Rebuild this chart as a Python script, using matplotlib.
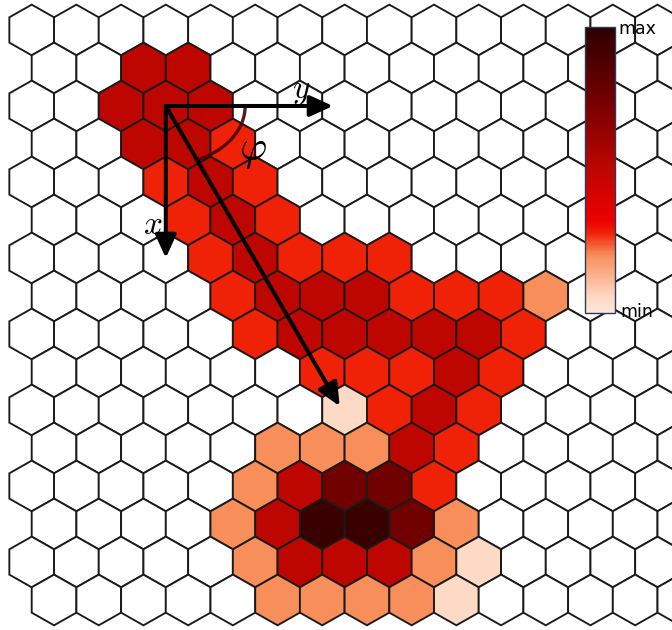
import numpy as np
import matplotlib
matplotlib.use('Agg')
import matplotlib.pyplot as plt
from matplotlib.patches import Polygon, Arc
from matplotlib.colors import LinearSegmentedColormap, Normalize
import matplotlib.cm as cm

plt.rcParams['mathtext.fontset'] = 'cm'

# hex lattice, 16 rows x 15 columns, odd rows shifted right by half a cell
# 0 = empty cell, otherwise an intensity level
levels = [
    [0, 0, 0, 0, 0, 0, 0, 0, 0, 0, 0, 0, 0, 0, 0],
    [0, 0, 4, 4, 0, 0, 0, 0, 0, 0, 0, 0, 0, 0, 0],
    [0, 0, 4, 4, 4, 0, 0, 0, 0, 0, 0, 0, 0, 0, 0],
    [0, 0, 4, 4, 3, 0, 0, 0, 0, 0, 0, 0, 0, 0, 0],
    [0, 0, 0, 3, 4, 3, 0, 0, 0, 0, 0, 0, 0, 0, 0],
    [0, 0, 0, 3, 4, 3, 0, 0, 0, 0, 0, 0, 0, 0, 0],
    [0, 0, 0, 0, 3, 4, 3, 3, 3, 0, 0, 0, 0, 0, 0],
    [0, 0, 0, 0, 3, 4, 4, 4, 3, 3, 3, 2, 0, 0, 0],
    [0, 0, 0, 0, 0, 3, 4, 4, 4, 4, 4, 3, 0, 0, 0],
    [0, 0, 0, 0, 0, 0, 3, 3, 3, 4, 3, 0, 0, 0, 0],
    [0, 0, 0, 0, 0, 0, 0, 1, 3, 4, 3, 0, 0, 0, 0],
    [0, 0, 0, 0, 0, 2, 2, 2, 4, 3, 0, 0, 0, 0, 0],
    [0, 0, 0, 0, 0, 2, 4, 5, 5, 3, 0, 0, 0, 0, 0],
    [0, 0, 0, 0, 2, 4, 6, 6, 5, 2, 0, 0, 0, 0, 0],
    [0, 0, 0, 0, 0, 2, 4, 4, 4, 2, 1, 0, 0, 0, 0],
    [0, 0, 0, 0, 0, 2, 2, 2, 2, 1, 0, 0, 0, 0, 0],
]
level_values = [0.0, 0.05, 0.2, 0.28, 0.5, 0.75, 0.96]

cmap = LinearSegmentedColormap.from_list('heat', [
    (0.0, '#ffe6d8'),
    (0.05, '#fdd9c4'),
    (0.2, '#f88e5a'),
    (0.28, '#ef2006'),
    (0.32, '#ec0000'),
    (0.5, '#bf0600'),
    (0.75, '#720000'),
    (1.0, '#2e0000'),
])
norm = Normalize(0, 1)

fig = plt.figure(figsize=(6.72, 6.3), dpi=100)
ax = fig.add_axes([0, 0, 1, 1])
ax.set_xlim(-0.709, 14.324)
ax.set_ylim(15.79, -0.789)
ax.axis('off')

# pointy-top hexagon outline, one unit wide and one row tall spacing
hex_x = np.array([0, 0.5, 0.5, 0, -0.5, -0.5])
hex_y = np.array([-2/3, -1/3, 1/3, 2/3, 1/3, -1/3])

for r, row in enumerate(levels):
    for c, lev in enumerate(row):
        cx = c + 0.5 * (r % 2)
        if lev == 0:
            fc = 'white'
        else:
            fc = cmap(norm(level_values[lev]))
        ax.add_patch(Polygon(np.column_stack([cx + hex_x, r + hex_y]),
                             closed=True, facecolor=fc, edgecolor='#1a1a1a',
                             lw=1.35, zorder=1))

# axes arrows and the angle marker
origin = (3, 2)
arc = Arc(origin, 3.55, 3.1, theta1=0, theta2=66, color='#4a0000',
          lw=2.4, alpha=0.9, zorder=3)
ax.add_patch(arc)

aprops = dict(arrowstyle='-|>,head_length=0.7,head_width=0.32', lw=2.9,
              color='black', shrinkA=0, shrinkB=0, mutation_scale=20)
ax.annotate('', xy=(3, 6.0), xytext=origin, arrowprops=aprops, zorder=4)
ax.annotate('', xy=(6.74, 2.0), xytext=origin, arrowprops=aprops, zorder=4)
ax.annotate('', xy=(6.89, 9.9), xytext=origin, arrowprops=aprops, zorder=4)

ax.text(2.7, 5.13, r'$x$', fontsize=24, ha='center', va='center', zorder=5)
ax.text(6.02, 1.6, r'$y$', fontsize=24, ha='center', va='center', zorder=5)
ax.text(4.95, 3.15, r'$\varphi$', fontsize=30, ha='center', va='center', zorder=5)

# colour scale
cax = fig.add_axes([0.870, 0.5037, 0.0451, 0.453])
sm = cm.ScalarMappable(norm=norm, cmap=cmap)
cb = fig.colorbar(sm, cax=cax)
cb.set_ticks([])
cb.outline.set_edgecolor('#2a3a5c')
cb.outline.set_linewidth(1.0)
fig.text(618 / 672, 1 - 29 / 630, 'max', fontsize=12.5, ha='left', va='center')
fig.text(620 / 672, 1 - 312 / 630, 'min', fontsize=12.5, ha='left', va='center')

fig.savefig('out.png', dpi=100)
